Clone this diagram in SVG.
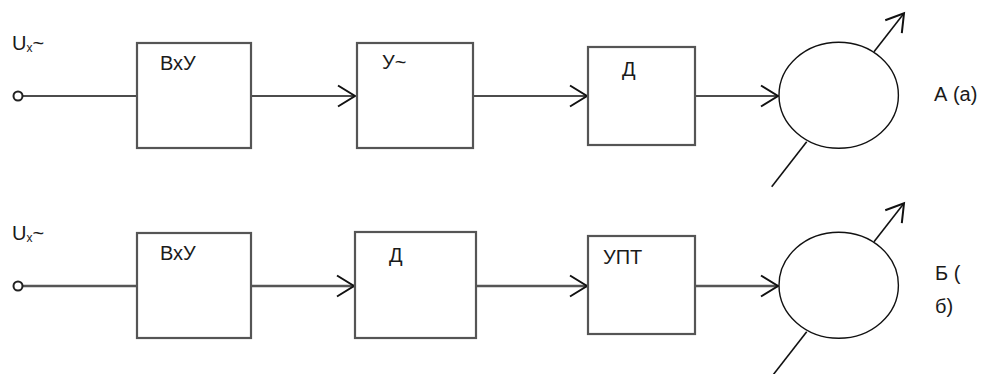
<svg xmlns="http://www.w3.org/2000/svg" width="991" height="374" viewBox="0 0 991 374">
<defs>
<marker id="arr" markerUnits="userSpaceOnUse" markerWidth="40" markerHeight="40" viewBox="-20 -20 40 40" refX="0" refY="0" orient="auto">
<path d="M-17,-10.5 L0,0 L-17,10.5" fill="none" stroke="#111" stroke-width="2"/>
</marker>
</defs>
<style>
.box{fill:#fff;stroke:#555;stroke-width:2.2}
.t{font-family:"Liberation Sans",Arial,sans-serif;font-size:20px;fill:#1a1a1a}
.w1{stroke:#111;stroke-width:1.6;fill:none}
.w2{stroke:#555;stroke-width:2.4;fill:none}
.c{fill:#fff;stroke:#111;stroke-width:1.4}
.term{fill:none;stroke:#222;stroke-width:2}
</style>
<g id="connectors">
<line class="w1" x1="23" y1="96" x2="137" y2="96"/>
<line class="w1" x1="251" y1="96" x2="355" y2="96" marker-end="url(#arr)"/>
<line class="w1" x1="473" y1="96" x2="587" y2="96" marker-end="url(#arr)"/>
<line class="w1" x1="695" y1="96" x2="778" y2="96" marker-end="url(#arr)"/>
<line class="w1" x1="771.7" y1="186.7" x2="806.7" y2="141.7"/>
<line class="w1" x1="874" y1="51.7" x2="904" y2="13.3" marker-end="url(#arr)"/>
<line class="w2" x1="23" y1="286" x2="137" y2="286"/>
<line class="w2" x1="251" y1="286" x2="354" y2="286" marker-end="url(#arr)"/>
<line class="w2" x1="476" y1="286" x2="587" y2="286" marker-end="url(#arr)"/>
<line class="w2" x1="695" y1="286" x2="778" y2="286" marker-end="url(#arr)"/>
<line class="w1" x1="771.7" y1="376.7" x2="806.7" y2="331.7"/>
<line class="w1" x1="874" y1="241.7" x2="904" y2="203.3" marker-end="url(#arr)"/>
</g>
<g id="in1">
<circle class="term" cx="18" cy="96" r="4.5"/>
<text class="t" x="12" y="50" font-size="18">U<tspan font-size="12" dy="2">x</tspan><tspan dy="-2">~</tspan></text>
</g>
<g id="vxu1">
<rect class="box" x="137" y="43" width="114" height="105"/>
<text class="t" x="160" y="70" font-size="22">ВхУ</text>
</g>
<g id="u1">
<rect class="box" x="357" y="43" width="116" height="105"/>
<text class="t" x="382" y="69" font-size="22">У~</text>
</g>
<g id="d1">
<rect class="box" x="588" y="47" width="107" height="98"/>
<text class="t" x="622" y="76" font-size="22">Д</text>
</g>
<g id="meter1">
<ellipse class="c" cx="838.7" cy="95.3" rx="59.7" ry="53"/>
</g>
<text class="t" x="934" y="101" font-size="23">А (а)</text>
<g id="in2">
<circle class="term" cx="18" cy="286" r="4.5"/>
<text class="t" x="12" y="240" font-size="18">U<tspan font-size="12" dy="2">x</tspan><tspan dy="-2">~</tspan></text>
</g>
<g id="vxu2">
<rect class="box" x="137" y="233" width="114" height="105"/>
<text class="t" x="160" y="260" font-size="22">ВхУ</text>
</g>
<g id="d2">
<rect class="box" x="355" y="232" width="121" height="106"/>
<text class="t" x="389" y="262" font-size="22">Д</text>
</g>
<g id="upt2">
<rect class="box" x="588" y="236" width="107" height="98"/>
<text class="t" x="603" y="264" font-size="22">УПТ</text>
</g>
<g id="meter2">
<ellipse class="c" cx="838.7" cy="285.3" rx="59.7" ry="53"/>
</g>
<text class="t" x="935" y="280" font-size="23">Б (</text>
<text class="t" x="935" y="313" font-size="23">б)</text>
</svg>
